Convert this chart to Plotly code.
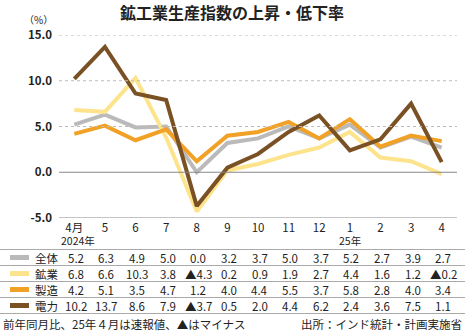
import plotly.graph_objects as go

months = ["4月", "5", "6", "7", "8", "9", "10", "11", "12", "1", "2", "3", "4"]
series_names = ["全体", "鉱業", "製造", "電力"]
overall = [5.2, 6.3, 4.9, 5.0, 0.0, 3.2, 3.7, 5.0, 3.7, 5.2, 2.7, 3.9, 2.7]
mining = [6.8, 6.6, 10.3, 3.8, -4.3, 0.2, 0.9, 1.9, 2.7, 4.4, 1.6, 1.2, -0.2]
manufacturing = [4.2, 5.1, 3.5, 4.7, 1.2, 4.0, 4.4, 5.5, 3.7, 5.8, 2.8, 4.0, 3.4]
electricity = [10.2, 13.7, 8.6, 7.9, -3.7, 0.5, 2.0, 4.4, 6.2, 2.4, 3.6, 7.5, 1.1]
colors = ["#bababa", "#fde48c", "#f0a126", "#7a5124"]
y_ticks = [-5, 0, 5, 10, 15]
title = "鉱工業生産指数の上昇・低下率"
note = "前年同月比、25年４月は速報値、▲はマイナス"
source = "出所：インド統計・計画実施省"

all_series = [overall, mining, manufacturing, electricity]
FONT = "Noto Sans CJK JP"
W, H = 465, 333
L, R, T, B = 59, 8, 35, 115
PW = W - L - R
PH = H - T - B

def py(p):
    return (H - B - p) / PH

def pxx(p):
    return (p - L) / PW

fig = go.Figure()
x = list(range(len(months)))
for name, vals, c in zip(series_names, all_series, colors):
    fig.add_trace(go.Scatter(x=x, y=vals, mode="lines", name=name,
                             line=dict(color=c, width=4), showlegend=False))

shapes = []
# gridlines
for v in y_ticks:
    if v in (0, -5):
        shapes.append(dict(type="line", xref="paper", yref="y", x0=0, x1=1, y0=v, y1=v,
                           line=dict(color="#888888", width=1)))
    else:
        shapes.append(dict(type="line", xref="paper", yref="y", x0=0, x1=1, y0=v, y1=v,
                           line=dict(color="#bbbbbb", width=1, dash="dot")))
# table row separators
for p in [249.5, 265.5, 281.5, 297.5, 313.5]:
    shapes.append(dict(type="line", xref="paper", yref="paper", x0=pxx(0), x1=pxx(465),
                       y0=py(p), y1=py(p), line=dict(color="#aaaaaa", width=1)))

annotations = []
row_y = [257.5, 273.5, 289.5, 305.5]
for name, vals, c, ry in zip(series_names, all_series, colors, row_y):
    shapes.append(dict(type="line", xref="paper", yref="paper", x0=pxx(10), x1=pxx(29),
                       y0=py(ry), y1=py(ry), line=dict(color=c, width=5)))
    annotations.append(dict(text=name, xref="paper", yref="paper", x=pxx(33), y=py(ry),
                            xanchor="left", yanchor="middle", showarrow=False,
                            font=dict(size=11.5, color="#222222", family=FONT)))
    for i, v in enumerate(vals):
        t = f"{v:.1f}" if v >= 0 else "▲" + f"{-v:.1f}"
        annotations.append(dict(text=t, xref="x", yref="paper", x=i + 0.05, y=py(ry),
                                xanchor="center", yanchor="middle", showarrow=False,
                                font=dict(size=11.5, color="#222222", family=FONT)))

annotations.append(dict(text=title, xref="paper", yref="paper", x=pxx(232), y=py(12),
                        xanchor="center", yanchor="middle", showarrow=False,
                        font=dict(size=16, color="#222222", family=FONT, weight="bold")))
annotations.append(dict(text="（%）", xref="paper", yref="paper", x=pxx(38), y=py(20),
                        xanchor="center", yanchor="middle", showarrow=False,
                        font=dict(size=10, color="#222222", family=FONT)))
annotations.append(dict(text="2024年", xref="x", yref="paper", x=0.12, y=py(241),
                        xanchor="center", yanchor="middle", showarrow=False,
                        font=dict(size=10.5, color="#222222", family=FONT)))
annotations.append(dict(text="25年", xref="x", yref="paper", x=9, y=py(241),
                        xanchor="center", yanchor="middle", showarrow=False,
                        font=dict(size=10.5, color="#222222", family=FONT)))
annotations.append(dict(text=note, xref="paper", yref="paper", x=pxx(1), y=py(323.5),
                        xanchor="left", yanchor="middle", showarrow=False,
                        font=dict(size=11.5, color="#222222", family=FONT)))
annotations.append(dict(text=source, xref="paper", yref="paper", x=pxx(464), y=py(323.5),
                        xanchor="right", yanchor="middle", showarrow=False,
                        font=dict(size=11.5, color="#222222", family=FONT)))

fig.update_layout(
    width=W, height=H,
    margin=dict(l=L, r=R, t=T, b=B),
    paper_bgcolor="white", plot_bgcolor="white",
    shapes=shapes, annotations=annotations,
    font=dict(family=FONT, color="#222222"),
    xaxis=dict(range=[-0.5, 12.5], tickvals=x, ticktext=months, showgrid=False,
               zeroline=False, showline=False, ticks="", tickfont=dict(size=11.5),
               ticklabelstandoff=1, fixedrange=True),
    yaxis=dict(range=[-5, 15], tickvals=y_ticks, ticktext=[f"{v:.1f}" for v in y_ticks],
               showgrid=False, zeroline=False, showline=False, ticks="",
               tickfont=dict(size=11.5, weight="bold"), ticklabelstandoff=6, fixedrange=True),
)
fig.write_html("out.html")
